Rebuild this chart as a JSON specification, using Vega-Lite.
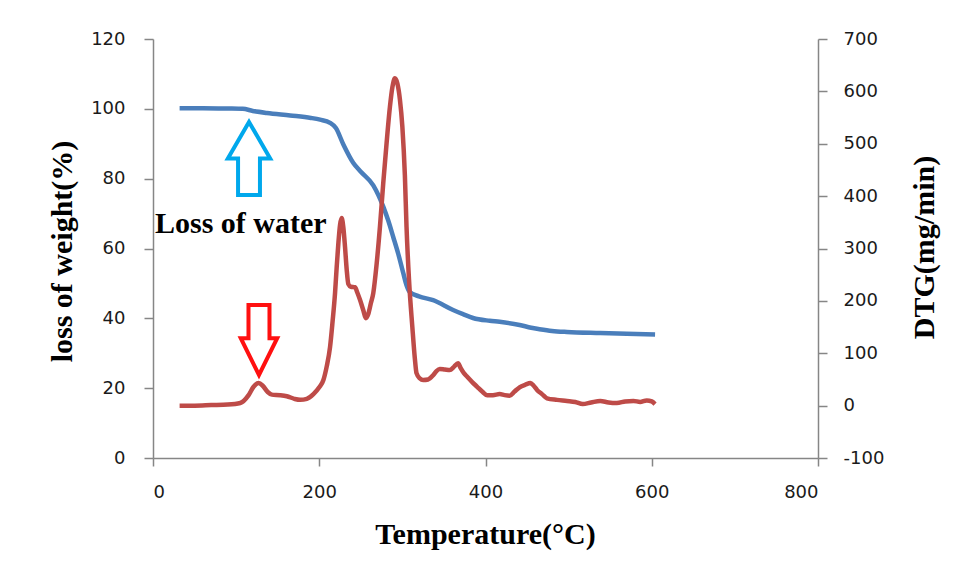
{
  "$schema": "https://vega.github.io/schema/vega-lite/v6.json",
  "autosize": {"type": "none"},
  "padding": {"left": 153, "top": 39, "right": 145, "bottom": 124},
  "width": 665,
  "height": 419,
  "background": "white",
  "config": {
    "view": {"stroke": null},
    "axis": {
      "grid": false,
      "domainColor": "#868686",
      "domainWidth": 1.5,
      "tickColor": "#868686",
      "tickWidth": 1.5,
      "labelFont": "DejaVu Sans",
      "labelFontSize": 18,
      "labelColor": "#1a1a1a",
      "titleFont": "Liberation Serif",
      "titleFontWeight": "bold",
      "titleFontSize": 30,
      "titleColor": "#000000"
    }
  },
  "datasets": {
    "tg": [
      {"T": 32, "w": 100.2}, {"T": 60, "w": 100.2}, {"T": 90, "w": 100.1}, {"T": 108, "w": 100},
      {"T": 120, "w": 99.4}, {"T": 137, "w": 98.8}, {"T": 165, "w": 98.1}, {"T": 190, "w": 97.4},
      {"T": 201, "w": 96.9}, {"T": 213, "w": 96.0}, {"T": 220, "w": 94.5}, {"T": 229, "w": 89.8},
      {"T": 241, "w": 84.5}, {"T": 250, "w": 82}, {"T": 265, "w": 78.1}, {"T": 277, "w": 72},
      {"T": 283, "w": 68}, {"T": 289, "w": 63.3}, {"T": 295, "w": 58.5}, {"T": 301, "w": 53},
      {"T": 305, "w": 49.5}, {"T": 309, "w": 47.5}, {"T": 320, "w": 46.3}, {"T": 337, "w": 45.2},
      {"T": 361, "w": 42.4}, {"T": 373, "w": 41.2}, {"T": 385, "w": 40.1}, {"T": 405, "w": 39.3},
      {"T": 417, "w": 39.0}, {"T": 441, "w": 38.1}, {"T": 455, "w": 37.3}, {"T": 465, "w": 36.9},
      {"T": 480, "w": 36.4}, {"T": 498, "w": 36.1}, {"T": 538, "w": 35.8}, {"T": 570, "w": 35.6},
      {"T": 604, "w": 35.4}
    ],
    "dtg": [
      {"T": 32, "d": 0}, {"T": 50, "d": 0}, {"T": 70, "d": 1}, {"T": 90, "d": 2}, {"T": 105, "d": 5},
      {"T": 115, "d": 20}, {"T": 121, "d": 36}, {"T": 127, "d": 43}, {"T": 132, "d": 38}, {"T": 138, "d": 26},
      {"T": 143, "d": 21}, {"T": 153, "d": 20}, {"T": 161, "d": 18}, {"T": 170, "d": 13}, {"T": 177, "d": 11},
      {"T": 185, "d": 13}, {"T": 193, "d": 22}, {"T": 200, "d": 35}, {"T": 205, "d": 49}, {"T": 209, "d": 75},
      {"T": 213, "d": 112}, {"T": 216, "d": 160}, {"T": 219, "d": 215}, {"T": 221, "d": 265}, {"T": 223, "d": 310},
      {"T": 225, "d": 345}, {"T": 227, "d": 358}, {"T": 229, "d": 340}, {"T": 231, "d": 303}, {"T": 233, "d": 260},
      {"T": 235, "d": 232}, {"T": 238, "d": 227}, {"T": 243, "d": 226}, {"T": 246, "d": 215}, {"T": 249, "d": 202},
      {"T": 253, "d": 182}, {"T": 256, "d": 167}, {"T": 259, "d": 175}, {"T": 262, "d": 195}, {"T": 265, "d": 215},
      {"T": 269, "d": 270}, {"T": 273, "d": 341}, {"T": 277, "d": 425}, {"T": 281, "d": 501}, {"T": 285, "d": 570},
      {"T": 288, "d": 608}, {"T": 291, "d": 625}, {"T": 294, "d": 615}, {"T": 297, "d": 585}, {"T": 300, "d": 532},
      {"T": 303, "d": 440}, {"T": 305, "d": 341}, {"T": 308, "d": 240}, {"T": 312, "d": 150}, {"T": 315, "d": 90},
      {"T": 317, "d": 62}, {"T": 321, "d": 52}, {"T": 325, "d": 49}, {"T": 331, "d": 50}, {"T": 337, "d": 58},
      {"T": 341, "d": 66}, {"T": 345, "d": 70}, {"T": 351, "d": 69}, {"T": 357, "d": 68}, {"T": 362, "d": 74},
      {"T": 367, "d": 81}, {"T": 370, "d": 72}, {"T": 374, "d": 62}, {"T": 378, "d": 55}, {"T": 384, "d": 45},
      {"T": 390, "d": 36}, {"T": 396, "d": 27}, {"T": 402, "d": 20}, {"T": 409, "d": 20}, {"T": 417, "d": 22},
      {"T": 423, "d": 20}, {"T": 429, "d": 19}, {"T": 435, "d": 27}, {"T": 441, "d": 35}, {"T": 448, "d": 40},
      {"T": 454, "d": 43}, {"T": 458, "d": 38}, {"T": 462, "d": 30}, {"T": 468, "d": 22}, {"T": 474, "d": 14},
      {"T": 486, "d": 11}, {"T": 498, "d": 9}, {"T": 508, "d": 7}, {"T": 517, "d": 3}, {"T": 527, "d": 6},
      {"T": 538, "d": 9}, {"T": 548, "d": 6}, {"T": 558, "d": 5}, {"T": 568, "d": 8}, {"T": 578, "d": 9},
      {"T": 586, "d": 7}, {"T": 594, "d": 10}, {"T": 600, "d": 8}, {"T": 604, "d": 3}
    ],
    "note": [{"T": 2.4, "w": 64.4, "label": "Loss of water"}],
    "upArrow": [{"T": 115.5, "w": 85.8}],
    "downArrow": [{"T": 127.5, "w": 33.8}]
  },
  "encoding": {
    "x": {
      "field": "T", "type": "quantitative",
      "scale": {"domain": [0, 800], "nice": false},
      "axis": {
        "values": [0, 200, 400, 600, 800],
        "tickSize": 8, "labelPadding": 17,
        "title": "Temperature(°C)",
        "titleX": 332, "titleY": 85, "titleBaseline": "alphabetic", "titleAlign": "center"
      }
    }
  },
  "layer": [
    {
      "data": {"name": "tg"},
      "mark": {"type": "line", "color": "#4A7EBB", "strokeWidth": 4.5, "interpolate": "monotone"},
      "encoding": {
        "y": {
          "field": "w", "type": "quantitative",
          "scale": {"domain": [0, 120], "nice": false},
          "axis": {
            "orient": "left",
            "values": [0, 20, 40, 60, 80, 100, 120],
            "tickSize": 9, "labelPadding": 19,
            "title": "loss of weight(%)",
            "titleAngle": -90, "titleX": -91, "titleY": 212,
            "titleBaseline": "middle", "titleAlign": "center"
          }
        }
      }
    },
    {
      "data": {"name": "dtg"},
      "mark": {"type": "line", "color": "#BE4B48", "strokeWidth": 4.5, "interpolate": "monotone"},
      "encoding": {
        "y": {
          "field": "d", "type": "quantitative",
          "scale": {"domain": [-100, 700], "nice": false},
          "axis": {
            "orient": "right",
            "values": [-100, 0, 100, 200, 300, 400, 500, 600, 700],
            "labelExpr": "datum.value < 0 ? '-' + abs(datum.value) : datum.label",
            "tickSize": 9, "labelPadding": 16,
            "title": "DTG(mg/min)",
            "titleAngle": -90, "titleX": 106, "titleY": 208,
            "titleBaseline": "middle", "titleAlign": "center"
          }
        }
      }
    },
    {
      "data": {"name": "note"},
      "mark": {"type": "text", "font": "Liberation Serif", "fontWeight": "bold", "fontSize": 30, "align": "left", "baseline": "alphabetic", "color": "#000000"},
      "encoding": {
        "y": {"field": "w", "type": "quantitative", "scale": {"domain": [0, 120], "nice": false}, "axis": null},
        "text": {"field": "label"}
      }
    },
    {
      "data": {"name": "upArrow"},
      "mark": {"type": "point", "shape": "M0,-1L0.58,0L0.3,0L0.3,1L-0.3,1L-0.3,0L-0.58,0Z", "size": 5329, "filled": false, "color": "#00A8EC", "strokeWidth": 4, "opacity": 1},
      "encoding": {
        "y": {"field": "w", "type": "quantitative", "scale": {"domain": [0, 120], "nice": false}, "axis": null}
      }
    },
    {
      "data": {"name": "downArrow"},
      "mark": {"type": "point", "shape": "M-0.3,-1L0.3,-1L0.3,-0.05L0.52,-0.05L0,1L-0.52,-0.05L-0.3,-0.05Z", "size": 4900, "filled": false, "color": "#FF1010", "strokeWidth": 4, "opacity": 1},
      "encoding": {
        "y": {"field": "w", "type": "quantitative", "scale": {"domain": [0, 120], "nice": false}, "axis": null}
      }
    }
  ],
  "resolve": {"scale": {"y": "independent"}}
}
